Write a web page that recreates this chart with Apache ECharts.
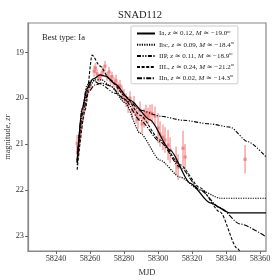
<!DOCTYPE html>
<html><head><meta charset="utf-8">
<script src="https://cdn.jsdelivr.net/npm/echarts@6/dist/echarts.min.js"></script>
<style>html,body{margin:0;padding:0;background:#fff}#c{width:280px;height:280px}</style>
</head><body><div id="c"></div>
<script>
// Observations
const obsMjd = [58252.4,58252.6,58253.2,58254.1,58254.7,58255.3,58256.2,58257.1,58257.9,58258.8,58260.0,58262.4,58263.2,58264.1,58265.3,58266.5,58267.6,58268.8,58270.0,58271.2,58272.1,58272.9,58274.1,58275.3,58276.5,58277.6,58278.8,58280.0,58281.2,58282.4,58283.5,58284.7,58285.9,58287.1,58288.2,58289.4,58290.6,58291.8,58292.9,58294.1,58295.3,58296.5,58298.2,58300.0,58301.2,58302.9,58304.1,58305.9,58307.1,58310.6,58311.8,58314.7,58315.9,58351.2];
const obsMag = [20.98,21.19,21.08,20.85,20.65,20.47,20.30,20.13,19.97,19.84,19.73,19.41,19.34,19.47,19.56,19.50,19.41,19.30,19.52,19.43,19.60,19.53,19.67,19.62,19.78,19.73,19.87,19.95,20.04,20.15,20.00,20.26,20.13,20.35,20.46,20.26,20.56,20.43,20.32,20.39,20.32,20.34,20.39,20.65,20.78,20.85,20.91,21.02,21.13,21.35,21.50,21.09,21.28,21.33];
const obsErr = [0.18,0.2,0.15,0.14,0.14,0.12,0.12,0.1,0.1,0.1,0.09,0.12,0.11,0.1,0.09,0.09,0.1,0.11,0.1,0.11,0.11,0.11,0.12,0.13,0.13,0.13,0.14,0.15,0.15,0.17,0.15,0.18,0.18,0.2,0.21,0.19,0.22,0.21,0.18,0.18,0.18,0.21,0.21,0.33,0.28,0.28,0.28,0.33,0.28,0.3,0.28,0.38,0.28,0.31];

// Model curves
const iaMjd  = [58252.4,58255.3,58258.2,58261.8,58265.9,58269.4,58274.7,58283.5,58295.3,58307.1,58318.8,58330.6,58342.4,58363.5];
const iaMag  = [21.41,20.26,19.78,19.58,19.49,19.52,19.69,20.04,20.47,21.13,21.85,22.28,22.50,22.50];
const ibcMjd = [58252.4,58255.3,58258.8,58263.0,58267.0,58271.8,58280.6,58289.4,58301.2,58313.0,58324.7,58336.5,58363.5];
const ibcMag = [21.45,20.22,19.78,19.60,19.60,19.73,20.10,20.76,21.35,21.72,22.00,22.18,22.18];
const iipMjd = [58252.4,58255.3,58258.2,58261.2,58265.9,58274.7,58283.5,58289.4,58301.2,58314.7,58330.6,58342.4,58352.9,58363.5];
const iipMag = [21.35,20.26,19.71,19.60,19.69,19.89,20.08,20.26,20.39,20.48,20.56,20.63,20.95,21.28];
const iilMjd = [58252.4,58257.1,58261.2,58265.9,58271.8,58280.6,58289.4,58301.2,58313.0,58324.7,58336.5,58346.5,58350.6];
const iilMag = [21.56,20.26,19.06,19.30,19.60,19.95,20.37,20.91,21.45,21.95,22.48,23.27,23.52];
const iinMjd = [58252.4,58255.9,58258.8,58262.9,58267.0,58271.8,58280.6,58289.4,58301.2,58313.0,58324.7,58336.5,58348.2,58363.5];
const iinMag = [21.39,20.30,19.87,19.71,19.67,19.73,20.04,20.48,20.95,21.50,22.00,22.39,22.74,23.02];

const typeNames = ['Ia','Ibc','IIP','IIL','IIn'];
const zVals = ['0.12','0.09','0.11','0.24','0.02'];
const mVals = ['\u221219.0','\u221218.4','\u221218.9','\u221221.2','\u221214.3'];
const xTicks = [58240,58260,58280,58300,58320,58340,58360];
const yTicks = [19,20,21,22,23];

const FONT = "'Liberation Serif','DejaVu Serif',serif";
const zip = (a,b) => a.map((v,i)=>[v,b[i]]);
const curves = [[iaMjd,iaMag],[ibcMjd,ibcMag],[iipMjd,iipMag],[iilMjd,iilMag],[iinMjd,iinMag]];
const dashes = ['solid',[1.2,1.2],[4,1.5,1.2,1.5,1.2,1.5],[3,1.6],[5,1.5,1.2,1.5]];
const widths = [1.3,1.2,1.1,1.1,1.1];

const chart = echarts.init(document.getElementById('c'), null, {renderer:'canvas'});
const lineSeries = curves.map((c,i)=>({
  name: typeNames[i], type:'line', data: zip(c[0],c[1]), showSymbol:false, symbol:'none',
  smooth:0.25, smoothMonotone:'x', clip:true, z:5,
  lineStyle:{color:'#000', width:widths[i], type:dashes[i]}, itemStyle:{color:'#000'}
}));

chart.setOption({
  animation:false,
  title:[
    {text:'SNAD112', left:'center', top:5, textStyle:{fontFamily:FONT, fontWeight:'normal', fontSize:10.5, color:'#222'}},
    {text:'Best type: Ia', left:37, top:28, textStyle:{fontFamily:FONT, fontWeight:'normal', fontSize:8.5, color:'#222'}}
  ],
  grid:{left:28, right:14, top:23, bottom:29, show:false, containLabel:false, outerBoundsMode:'none'},
  legend:{
    data: typeNames, orient:'vertical', left:131, top:26, itemWidth:18, itemHeight:6, itemGap:3.2,
    padding:[3,4,2,5], borderColor:'#ccc', borderWidth:1, backgroundColor:'#fff', borderRadius:1,
    itemStyle:{opacity:0, borderWidth:0},
    formatter: n => { const i = typeNames.indexOf(n); return n + ', {i|z} \u2243 ' + zVals[i] + ', {i|M} \u2243 ' + mVals[i] + '{s|m}'; },
    textStyle:{fontFamily:FONT, fontSize:7, color:'#222', padding:[0,0,0,-1],
      rich:{i:{fontFamily:FONT, fontStyle:'italic', fontSize:7, color:'#222'}, s:{fontFamily:FONT, fontStyle:'italic', fontSize:4.5, color:'#222', padding:[0,0,4,0]}}}
  },
  xAxis:{
    type:'value', min:58223.5, max:58363.5, name:'MJD', nameLocation:'middle', nameGap:17, nameMoveOverlap:false,
    nameTextStyle:{fontFamily:FONT, fontSize:8.5, color:'#333'},
    axisLine:{lineStyle:{color:'#888', width:1.2}},
    axisTick:{show:true, length:3, customValues:xTicks, lineStyle:{color:'#666'}},
    axisLabel:{customValues:xTicks, margin:3.5, fontFamily:FONT, fontSize:8.3, color:'#333', formatter: v => String(v)},
    splitLine:{show:false}
  },
  yAxis:{
    type:'value', inverse:true, min:18.36, max:23.33, name:'magnitude, {i|zr}', nameLocation:'middle', nameGap:16, nameRotate:90, nameMoveOverlap:false,
    nameTextStyle:{fontFamily:FONT, fontSize:8.3, color:'#333', rich:{i:{fontFamily:FONT, fontStyle:'italic', fontSize:8.3, color:'#333'}}},
    axisLine:{show:true, lineStyle:{color:'#888', width:1.2}},
    axisTick:{show:true, length:3, customValues:yTicks, lineStyle:{color:'#666'}},
    axisLabel:{customValues:yTicks, margin:4, fontFamily:FONT, fontSize:8.3, color:'#333', formatter: v => String(v)},
    splitLine:{show:false}
  },
  series:[
    {type:'custom', name:'err', z:2, silent:true, clip:true,
     data: obsMjd.map((m,i)=>[m, obsMag[i], obsErr[i]]),
     renderItem:(params, api)=>{
       const x = api.value(0), y = api.value(1), e = api.value(2);
       const p1 = api.coord([x, y-e]), p2 = api.coord([x, y+e]);
       return {type:'line', shape:{x1:p1[0], y1:p1[1], x2:p2[0], y2:p2[1]}, style:{stroke:'rgba(242,130,130,0.6)', lineWidth:1.8}};
     }},
    {type:'scatter', name:'obs', z:3, data: zip(obsMjd, obsMag), symbol:'rect', symbolSize:3.2,
     itemStyle:{color:'rgba(236,110,110,0.85)'}},
    ...lineSeries
  ]
});
const g = chart.getModel().getComponent('grid').coordinateSystem.getRect();
chart.setOption({graphic:[{type:'rect', shape:{x:g.x, y:g.y, width:g.width, height:g.height}, style:{fill:'none', stroke:'#888', lineWidth:1.2}, z:0, silent:true}]});
</script></body></html>
